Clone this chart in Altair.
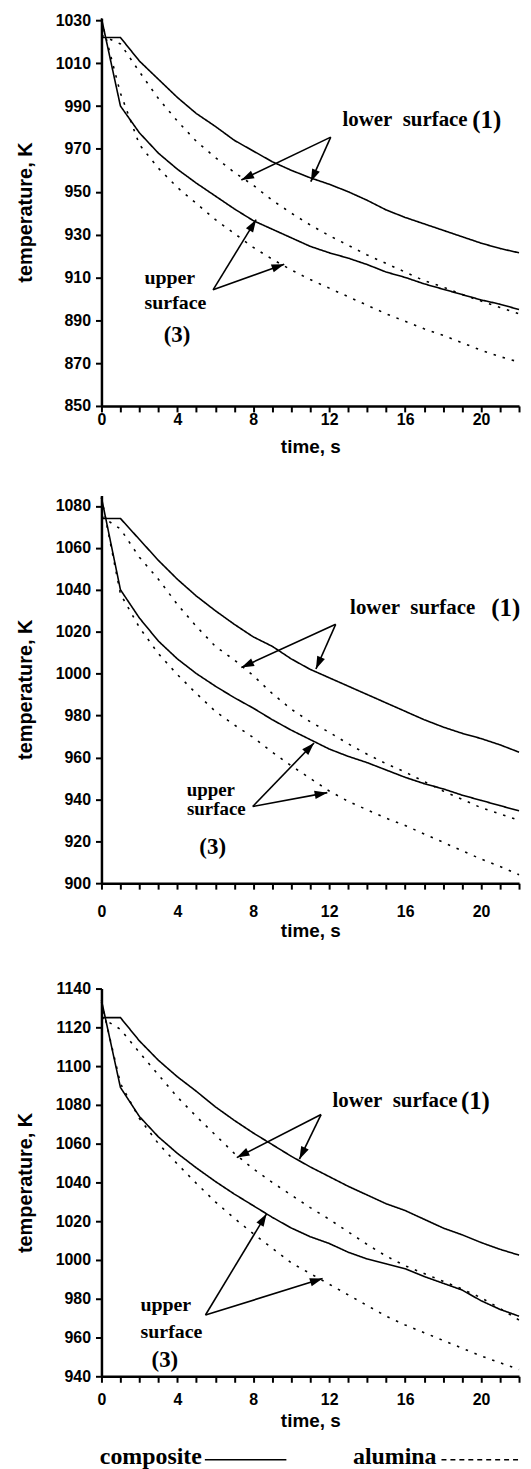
import math
import altair as alt
import pandas as pd

# ---------------- data ----------------
time_s = list(range(23))

# panel 1
p1_comp_lower = [1022, 1022, 1011, 1002.5, 994, 986.5, 980.5, 974, 969, 964, 960, 956.5,
                 953.5, 950, 946, 941.5, 938, 935, 932, 929, 926, 923.5, 921.5]
p1_comp_upper = [1031, 990, 977.5, 968, 960.5, 954, 948, 942, 936.5, 932.5, 928.5, 924.5,
                 921.5, 919, 916, 912.5, 910, 907, 904.5, 902, 899.5, 897.5, 895]
p1_alu_lower = [1023, 1019, 1006, 993.5, 983, 973.5, 966, 959, 953, 946, 940, 934.5,
                929.5, 925, 920.5, 916.5, 912.5, 908.5, 905.5, 902, 899, 896, 893]
p1_alu_upper = [1030, 996, 972, 961, 952, 944.5, 937, 930.5, 924, 918.5, 913.5, 909,
                905, 901, 897, 893, 889.5, 886, 883, 879.5, 876, 873, 870.5]

# panel 2
p2_comp_lower = [1074, 1074, 1064, 1054, 1045, 1037, 1030, 1023.5, 1017.5, 1013, 1007, 1002,
                 998, 994, 990, 986, 982, 978, 974.5, 971.5, 969, 966, 962.5]
p2_comp_upper = [1084, 1040, 1026.5, 1015.5, 1007, 1000, 994, 988.5, 983.5, 978, 973, 968.5,
                 964, 960.5, 957.5, 954, 950.5, 947.5, 945, 942, 939.5, 937, 934.5]
p2_alu_lower = [1075, 1069, 1055.5, 1045, 1033, 1022.5, 1013, 1006.5, 999, 990.5, 983, 977,
                972, 966.5, 961.5, 957, 953, 948.5, 944, 940, 936, 933, 930]
p2_alu_upper = [1084, 1038, 1022, 1009.5, 999.5, 990.5, 982, 975.5, 969.5, 962.5, 956, 950,
                944, 939, 935, 931, 927.5, 923.5, 919.5, 915.5, 911.5, 908, 904]

# panel 3
p3_comp_lower = [1125, 1125, 1113, 1103, 1094.5, 1087, 1079, 1072, 1065.5, 1059.5, 1053.5, 1048,
                 1043, 1038, 1033.5, 1029, 1025.5, 1021, 1016.5, 1013, 1009, 1005.5, 1002.5]
p3_comp_upper = [1134, 1089, 1074, 1063.5, 1055, 1047.5, 1040.5, 1034, 1028, 1022, 1016.5, 1012,
                 1008.5, 1004, 1000.5, 998, 995.5, 991.5, 988, 984.5, 979, 974.5, 971]
p3_alu_lower = [1125, 1119, 1107, 1095.5, 1084, 1074, 1064.5, 1055, 1047, 1040, 1033.5, 1027,
                1021, 1014.5, 1008, 1002, 997, 993, 989, 985, 980.5, 975, 969]
p3_alu_upper = [1133, 1091, 1073, 1060, 1049.5, 1039.5, 1030, 1021.5, 1013.5, 1006, 998.5, 993,
                987.5, 982, 976.5, 971, 966.5, 962.5, 958.5, 954.5, 950.5, 947, 943.5]

# axis ranges / ticks
p1_ydomain = [850, 1031]
p2_ydomain = [900, 1085]
p3_ydomain = [940, 1140]
p1_yticks = list(range(850, 1031, 20))
p2_yticks = list(range(900, 1081, 20))
p3_yticks = list(range(940, 1141, 20))

# annotation arrows: (source t, source T, target t, target T)
p1_arrows = [(12.08, 975.5, 7.37, 955.5), (12.08, 975.5, 11.03, 954.7),
             (5.88, 904.2, 8.15, 937.0), (5.88, 904.2, 9.63, 916.2)]
p2_arrows = [(12.34, 1023.5, 7.37, 1002.9), (12.34, 1023.5, 11.3, 1002.2),
             (7.97, 936.6, 11.2, 966.9), (7.97, 936.6, 11.9, 943.2)]
p3_arrows = [(11.57, 1075.0, 7.13, 1052.8), (11.57, 1075.0, 10.43, 1052.0),
             (5.48, 971.6, 8.7, 1023.8), (5.48, 971.6, 11.65, 990.4)]

# annotation texts
lower_label = "lower\u00a0\u00a0surface"
p1_lower_pos = (12.7, 983.3)
p2_lower_pos = (13.1, 1031.4)
p3_lower_pos = (12.17, 1081.9)
p1_center_texts = [("(1)", 20.3, 983.5, 25), ("upper", 3.6, 909.5, 20), ("surface", 3.9, 898, 20), ("(3)", 3.98, 883, 23)]
p2_center_texts = [("(1)", 21.3, 1031.4, 25), ("upper", 5.76, 944.5, 19), ("surface", 6.05, 935.5, 19), ("(3)", 5.86, 917, 23)]
p3_center_texts = [("(1)", 19.7, 1081.9, 25), ("upper", 3.39, 976.5, 20), ("surface", 3.69, 963, 20), ("(3)", 3.34, 948.5, 23)]

# ---------------- layout / style ----------------
W, H = 420, 390
XDOM = [0, 22]
SANS = "Liberation Sans"
SERIF = "Liberation Serif"
ARROW = "M0,0L0.33,1L-0.33,1Z"


def make_panel(cl, cu, al, au, ydom, yticks, arrows, lower_pos, ctexts, xlab_pad, xtitle_pad):
    rows = []
    for vals, mat, surf in [(cl, "composite", "lower"), (cu, "composite", "upper"),
                            (al, "alumina", "lower"), (au, "alumina", "upper")]:
        for t, v in zip(time_s, vals):
            rows.append({"t": t, "T": v, "material": mat, "series": mat + surf})
    df = pd.DataFrame(rows)

    xaxis = alt.Axis(values=time_s, labelExpr="datum.value % 4 == 0 ? datum.label : ''",
                     title="time, s", tickSize=6, tickWidth=2, domainWidth=2.5,
                     labelFont=SANS, labelFontSize=16, labelFontWeight="bold",
                     titleFont=SANS, titleFontSize=19, titleFontWeight="bold",
                     labelPadding=xlab_pad, titlePadding=xtitle_pad, labelFlush=False,
                     labelOverlap=False, grid=False, domainColor="black", tickColor="black",
                     labelColor="black", titleColor="black")
    yaxis = alt.Axis(values=yticks, format="d", title="temperature, K", tickSize=6, tickWidth=2,
                     domainWidth=2.5, labelFont=SANS, labelFontSize=16, labelFontWeight="bold",
                     titleFont=SANS, titleFontSize=20, titleFontWeight="bold",
                     labelPadding=5, titlePadding=20, grid=False, domainColor="black",
                     tickColor="black", labelColor="black", titleColor="black", labelFlush=False)
    xs = alt.Scale(domain=XDOM, nice=False, zero=False)
    ys = alt.Scale(domain=ydom, nice=False, zero=False)

    def X(f):
        return alt.X(f, type="quantitative", scale=xs, axis=xaxis)

    def Y(f):
        return alt.Y(f, type="quantitative", scale=ys, axis=yaxis)

    lines = alt.Chart(df).mark_line(strokeWidth=1.6, color="black", clip=False).encode(
        x=X("t"), y=Y("T"),
        strokeDash=alt.StrokeDash("material:N",
                                  scale=alt.Scale(domain=["composite", "alumina"],
                                                  range=[[1, 0], [2.5, 7]]), legend=None),
        detail="series:N",
    )

    kx = W / (XDOM[1] - XDOM[0])
    ky = H / (ydom[1] - ydom[0])
    arows = []
    for sx, sy, tx, ty in arrows:
        dx = (tx - sx) * kx
        dy = -(ty - sy) * ky
        ang = math.degrees(math.atan2(dx, -dy)) % 360
        arows.append({"sx": sx, "sy": sy, "tx": tx, "ty": ty, "ang": ang})
    adf = pd.DataFrame(arows)
    rules = alt.Chart(adf).mark_rule(strokeWidth=1.6, color="black").encode(
        x=X("sx"), y=Y("sy"), x2="tx:Q", y2="ty:Q")
    heads = alt.Chart(adf).mark_point(shape=ARROW, filled=True, size=650, color="black",
                                      opacity=1, strokeWidth=0).encode(
        x=X("tx"), y=Y("ty"), angle=alt.Angle("ang:Q", scale=None))

    ldf = pd.DataFrame([{"x": lower_pos[0], "y": lower_pos[1], "txt": lower_label}])
    ltext = alt.Chart(ldf).mark_text(font=SERIF, fontWeight="bold", fontSize=21, align="left",
                                     baseline="middle", color="black").encode(
        x=X("x"), y=Y("y"), text="txt:N")
    cdf = pd.DataFrame([{"txt": s, "x": x, "y": y, "fs": fs} for s, x, y, fs in ctexts])
    ctext = alt.Chart(cdf).mark_text(font=SERIF, fontWeight="bold", align="center",
                                     baseline="middle", color="black").encode(
        x=X("x"), y=Y("y"), text="txt:N", size=alt.Size("fs:Q", scale=None, legend=None))

    return alt.layer(lines, rules, heads, ltext, ctext).properties(width=W, height=H)


p1 = make_panel(p1_comp_lower, p1_comp_upper, p1_alu_lower, p1_alu_upper, p1_ydomain, p1_yticks,
                p1_arrows, p1_lower_pos, p1_center_texts, 0, 10)
p2 = make_panel(p2_comp_lower, p2_comp_upper, p2_alu_lower, p2_alu_upper, p2_ydomain, p2_yticks,
                p2_arrows, p2_lower_pos, p2_center_texts, 15, 2)
p3 = make_panel(p3_comp_lower, p3_comp_upper, p3_alu_lower, p3_alu_upper, p3_ydomain, p3_yticks,
                p3_arrows, p3_lower_pos, p3_center_texts, 9, 4)

# legend row
legend_items = ["composite", "alumina"]
leg_df = pd.DataFrame({"label": legend_items})
leg_base = alt.Chart(leg_df)
leg_t1 = leg_base.transform_filter("datum.label == 'composite'").mark_text(
    font=SERIF, fontWeight="bold", fontSize=24, align="right", baseline="middle", color="black"
).encode(x=alt.value(101), y=alt.value(8), text="label:N")
leg_l1 = leg_base.transform_filter("datum.label == 'composite'").mark_rule(
    strokeWidth=1.6, color="black").encode(x=alt.value(104), x2=alt.value(186), y=alt.value(11))
leg_t2 = leg_base.transform_filter("datum.label == 'alumina'").mark_text(
    font=SERIF, fontWeight="bold", fontSize=24, align="right", baseline="middle", color="black"
).encode(x=alt.value(337), y=alt.value(8), text="label:N")
leg_l2 = leg_base.transform_filter("datum.label == 'alumina'").mark_rule(
    strokeWidth=1.6, color="black", strokeDash=[5, 4]).encode(
    x=alt.value(342), x2=alt.value(420), y=alt.value(11))
legend = alt.layer(leg_t1, leg_l1, leg_t2, leg_l2).properties(width=W, height=16)

chart = alt.vconcat(
    alt.vconcat(p1, p2, spacing=37),
    alt.vconcat(p3, legend, spacing=15),
    spacing=40,
).properties(
    padding={"left": 7, "top": 0, "right": 0, "bottom": 0},
    background="white",
).configure_view(stroke=None)

chart.save("out.html", embed_options={"renderer": "svg", "actions": False})
